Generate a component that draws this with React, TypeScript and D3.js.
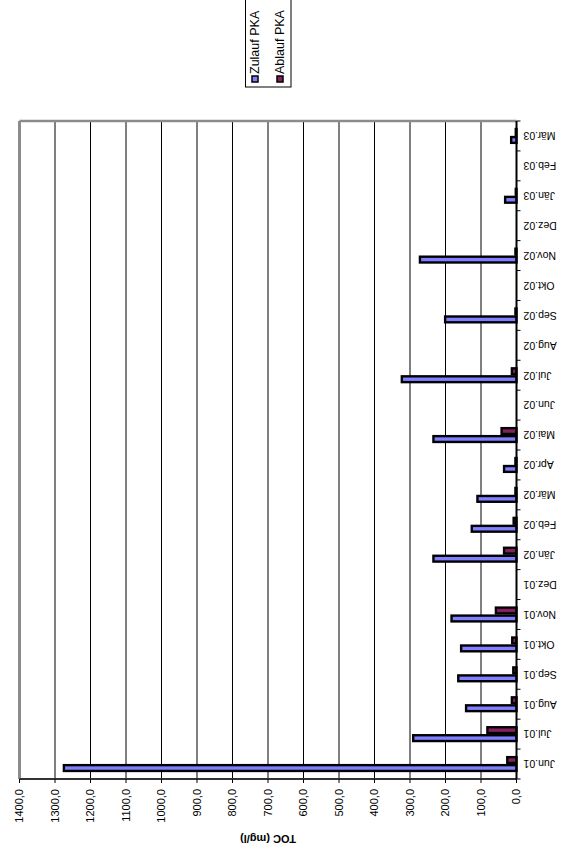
import React, { useEffect, useRef } from 'react';
import * as d3 from 'd3';

// monthly TOC values, Jun.01 .. Mär.03 (null = no sample)
const categories = [
  'Jun.01', 'Jul.01', 'Aug.01', 'Sep.01', 'Okt.01', 'Nov.01', 'Dez.01',
  'Jän.02', 'Feb.02', 'Mär.02', 'Apr.02', 'Mai.02', 'Jun.02', 'Jul.02',
  'Aug.02', 'Sep.02', 'Okt.02', 'Nov.02', 'Dez.02', 'Jän.03', 'Feb.03', 'Mär.03',
];
const zulauf: (number | null)[] = [
  1275, 291, 142, 164, 156, 183, null, 234, 126, 110, 35, 234, null, 323,
  null, 201, null, 272, null, 32, null, 15,
];
const ablauf: (number | null)[] = [
  26, 82, 13, 9, 12, 58, null, 35, 8, 3, 3, 42, null, 13,
  null, 3, null, 3, null, 2, null, 2,
];
const seriesNames = ['Zulauf PKA', 'Ablauf PKA'];
const seriesColors = ['#7f7fff', '#852060'];
const valueTicks = d3.range(0, 1401, 100);

const W = 861; // unrotated chart width
const H = 564; // unrotated chart height
const FONT = '"Liberation Sans", Arial, sans-serif';

const App: React.FC = () => {
  const svgRef = useRef<SVGSVGElement>(null);

  useEffect(() => {
    if (!svgRef.current) return;
    const svg = d3.select(svgRef.current);
    svg.selectAll('*').remove();

    // the whole column chart is drawn upright and then turned 90° to the left
    const g = svg.append('g').attr('transform', `translate(0,${W}) rotate(-90)`);

    const plot = { left: 82, right: 740, top: 19.5, bottom: 516.5 };

    const x = d3.scaleBand<string>().domain(categories).range([plot.left, plot.right]);
    const y = d3.scaleLinear().domain([0, 1400]).range([plot.bottom, plot.top]);
    const bw = x.bandwidth();
    const x1 = d3.scaleBand<string>().domain(seriesNames)
      .range([bw / 2 - 8, bw / 2 + 8]);

    g.append('rect')
      .attr('x', plot.left).attr('y', plot.top)
      .attr('width', plot.right - plot.left).attr('height', plot.bottom - plot.top)
      .attr('fill', '#ffffff');

    // gridlines
    g.append('g').selectAll('line')
      .data(valueTicks.filter(v => v > 0 && v < 1400))
      .join('line')
      .attr('x1', plot.left).attr('x2', plot.right)
      .attr('y1', d => y(d)).attr('y2', d => y(d))
      .attr('stroke', '#000').attr('stroke-width', 1);

    // plot frame (grey top + right)
    g.append('line')
      .attr('x1', plot.left).attr('x2', plot.right)
      .attr('y1', plot.top).attr('y2', plot.top)
      .attr('stroke', '#8c8c8c').attr('stroke-width', 3);
    g.append('line')
      .attr('x1', plot.right).attr('x2', plot.right)
      .attr('y1', plot.top).attr('y2', plot.bottom)
      .attr('stroke', '#8c8c8c').attr('stroke-width', 2.5);

    // bars
    const series = [zulauf, ablauf];
    series.forEach((vals, si) => {
      g.append('g').selectAll('rect')
        .data(categories.map((c, i) => ({ c, v: vals[i] })).filter(d => d.v != null))
        .join('rect')
        .attr('x', d => (x(d.c) as number) + (x1(seriesNames[si]) as number) + 1.1)
        .attr('width', x1.bandwidth() - 2.2)
        .attr('y', d => y(d.v as number))
        .attr('height', d => y(0) - y(d.v as number))
        .attr('fill', seriesColors[si])
        .attr('stroke', '#000')
        .attr('stroke-width', 2.4);
    });

    // value axis (left in upright chart)
    g.append('line')
      .attr('x1', plot.left).attr('x2', plot.left)
      .attr('y1', plot.top).attr('y2', plot.bottom)
      .attr('stroke', '#333').attr('stroke-width', 2);
    g.append('g').selectAll('line')
      .data(valueTicks)
      .join('line')
      .attr('x1', plot.left - 4).attr('x2', plot.left)
      .attr('y1', d => y(d)).attr('y2', d => y(d))
      .attr('stroke', '#000').attr('stroke-width', 1);
    g.append('g').selectAll('text')
      .data(valueTicks)
      .join('text')
      .attr('x', plot.left - 10)
      .attr('y', d => y(d))
      .attr('dy', '0.35em')
      .attr('text-anchor', 'end')
      .attr('font-family', FONT)
      .attr('font-size', 11)
      .text(d => d3.format('.1f')(d).replace('.', ','));

    // category axis
    g.append('line')
      .attr('x1', plot.left).attr('x2', plot.right)
      .attr('y1', plot.bottom).attr('y2', plot.bottom)
      .attr('stroke', '#000').attr('stroke-width', 2);
    g.append('g').selectAll('line')
      .data(categories.map(c => x(c) as number).concat([plot.right]))
      .join('line')
      .attr('x1', d => d).attr('x2', d => d)
      .attr('y1', plot.bottom).attr('y2', plot.bottom + 4)
      .attr('stroke', '#000').attr('stroke-width', 1);
    g.append('g').selectAll('text')
      .data(categories)
      .join('text')
      .attr('transform', d => `translate(${(x(d) as number) + bw / 2},${plot.bottom + 7}) rotate(-90)`)
      .attr('dy', '0.35em')
      .attr('text-anchor', 'end')
      .attr('font-family', FONT)
      .attr('font-size', 10.5)
      .text(d => d);

    // axis title
    g.append('text')
      .attr('transform', `translate(22.5,${(plot.top + plot.bottom) / 2}) rotate(-90)`)
      .attr('dy', '0.35em')
      .attr('text-anchor', 'middle')
      .attr('font-family', FONT)
      .attr('font-size', 11)
      .attr('font-weight', 'bold')
      .text('TOC (mg/l)');

    // legend
    const lg = g.append('g');
    lg.append('rect')
      .attr('x', 774).attr('y', 245.5)
      .attr('width', 100).attr('height', 45.5)
      .attr('fill', '#fff').attr('stroke', '#000').attr('stroke-width', 1);
    seriesNames.forEach((name, i) => {
      const cy = 255 + i * 25;
      lg.append('rect')
        .attr('x', 779).attr('y', cy - 3)
        .attr('width', 6).attr('height', 6)
        .attr('fill', seriesColors[i]).attr('stroke', '#000').attr('stroke-width', 1.5);
      lg.append('text')
        .attr('x', 787).attr('y', cy)
        .attr('dy', '0.35em')
        .attr('font-family', FONT)
        .attr('font-size', 12.5)
        .text(name);
    });
  }, []);

  return (
    <svg
      ref={svgRef}
      width={H}
      height={W}
      viewBox={`0 0 ${H} ${W}`}
      style={{ position: 'absolute', left: 0, top: 0, background: '#fff' }}
    ></svg>
  );
};

export default App;
